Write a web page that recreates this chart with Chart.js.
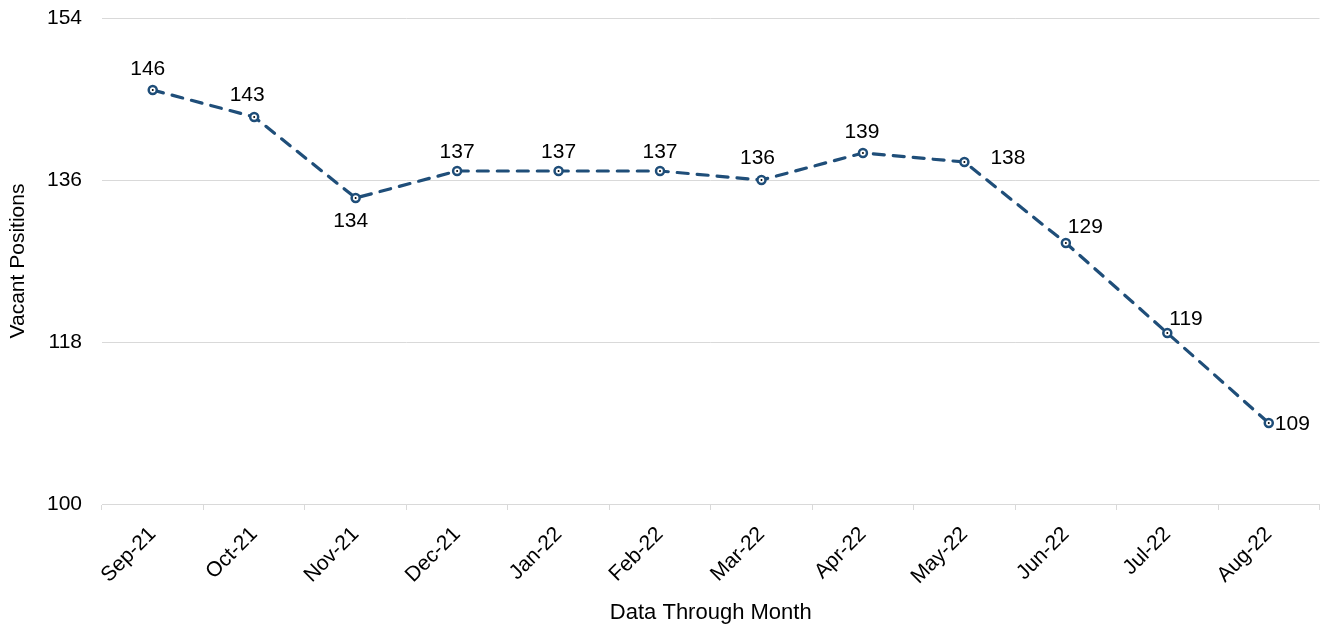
<!DOCTYPE html>
<html>
<head>
<meta charset="utf-8">
<script src="https://cdn.jsdelivr.net/npm/chart.js@4.4.1/dist/chart.umd.min.js"></script>
<style>
  html, body { margin: 0; padding: 0; background: #fff; overflow: hidden; }
  canvas { display: block; }
</style>
</head>
<body>
<canvas id="chart" width="1326" height="626"></canvas>
<script>
(function() {
  'use strict';

  var months = ['Sep-21', 'Oct-21', 'Nov-21', 'Dec-21', 'Jan-22', 'Feb-22',
                'Mar-22', 'Apr-22', 'May-22', 'Jun-22', 'Jul-22', 'Aug-22'];
  var vacant = [146, 143, 134, 137, 137, 137, 136, 139, 138, 129, 119, 109];
  var yTicks = [100, 118, 136, 154];

  var COLORS = {
    line: '#1F4E79',
    grid: '#D9D9D9',
    text: '#000000'
  };
  var FONT = '"Liberation Sans", Arial, sans-serif';

  // label offsets from each point: [dx, dy, align]
  var labelOffsets = [
    [-5, -21, 'center'], [-7, -22, 'center'], [-5, 23, 'center'],
    [0, -19, 'center'], [0, -19, 'center'], [0, -19, 'center'],
    [-4, -22, 'center'], [-1, -21, 'center'], [26, -4, 'left'],
    [2, -16, 'left'], [2, -14, 'left'], [6, 1, 'left']
  ];

  var pointLabels = {
    id: 'pointLabels',
    afterDatasetsDraw: function(chart) {
      var ctx = chart.ctx;
      var meta = chart.getDatasetMeta(0);
      ctx.save();
      meta.data.forEach(function(pt, i) {
        // small dark centre dot in each marker
        ctx.fillStyle = '#000';
        ctx.beginPath();
        ctx.arc(pt.x, pt.y, 1, 0, Math.PI * 2);
        ctx.fill();

        var off = labelOffsets[i];
        ctx.font = '21px ' + FONT;
        ctx.fillStyle = COLORS.text;
        ctx.textAlign = off[2];
        ctx.textBaseline = 'middle';
        ctx.fillText(String(vacant[i]), pt.x + off[0], pt.y + off[1]);
      });
      ctx.restore();
    }
  };

  new Chart(document.getElementById('chart').getContext('2d'), {
    type: 'line',
    data: {
      labels: months,
      datasets: [{
        data: vacant,
        borderColor: COLORS.line,
        borderWidth: 3.2,
        borderDash: [11, 9],
        borderCapStyle: 'round',
        tension: 0,
        fill: false,
        pointRadius: 4,
        pointBorderWidth: 2.5,
        pointBackgroundColor: '#FFFFFF',
        pointBorderColor: COLORS.line
      }]
    },
    options: {
      responsive: false,
      animation: false,
      layout: { padding: { top: 18, right: 1, left: 0, bottom: 0 } },
      plugins: {
        legend: { display: false },
        tooltip: { enabled: false }
      },
      scales: {
        x: {
          offset: true,
          grid: {
            offset: true,
            drawOnChartArea: false,
            drawTicks: true,
            tickLength: 6,
            color: COLORS.grid
          },
          border: { display: true, color: COLORS.grid, width: 1 },
          ticks: {
            color: COLORS.text,
            font: { family: FONT, size: 21 },
            minRotation: 45,
            maxRotation: 45,
            padding: 12,
            autoSkip: false
          },
          title: {
            display: true,
            text: 'Data Through Month',
            color: COLORS.text,
            font: { family: FONT, size: 22 },
            padding: { top: 0, bottom: 0 }
          },
          afterFit: function(axis) {
            axis.height = 122;
            axis.paddingLeft = 0;
            axis.paddingRight = 0;
          }
        },
        y: {
          min: yTicks[0],
          max: yTicks[yTicks.length - 1],
          afterBuildTicks: function(axis) {
            axis.ticks = yTicks.map(function(v) { return { value: v }; });
          },
          grid: { color: COLORS.grid, drawTicks: false, lineWidth: 1 },
          border: { display: false },
          ticks: {
            color: COLORS.text,
            font: { family: FONT, size: 21 },
            padding: 20
          },
          title: {
            display: true,
            text: 'Vacant Positions',
            color: COLORS.text,
            font: { family: FONT, size: 21 },
            padding: { top: 6, bottom: 0 }
          },
          afterFit: function(axis) {
            axis.width = 102;
            axis.paddingTop = 0;
            axis.paddingBottom = 0;
          }
        }
      }
    },
    plugins: [pointLabels]
  });
})();
</script>
</body>
</html>
